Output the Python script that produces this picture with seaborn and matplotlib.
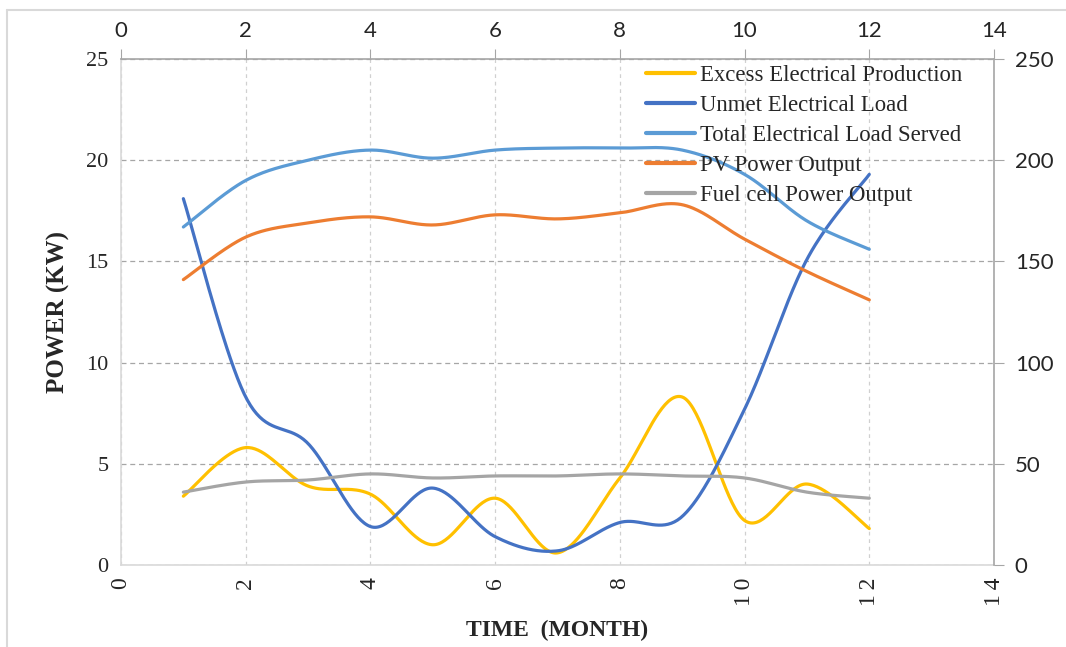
import numpy as np
import pandas as pd
import matplotlib
matplotlib.use("Agg")
import matplotlib.pyplot as plt
import seaborn as sns
from matplotlib.lines import Line2D

months = [1, 2, 3, 4, 5, 6, 7, 8, 9, 10, 11, 12]
excess = [3.4, 5.8, 3.9, 3.5, 1.0, 3.3, 0.6, 4.3, 8.3, 2.2, 4.0, 1.8]
unmet = [18.1, 8.3, 6.0, 1.9, 3.8, 1.4, 0.7, 2.1, 2.4, 7.7, 15.1, 19.3]
total_served = [16.7, 19.0, 20.0, 20.5, 20.1, 20.5, 20.6, 20.6, 20.5, 19.3, 17.0, 15.6]
pv_output = [14.1, 16.2, 16.9, 17.2, 16.8, 17.3, 17.1, 17.4, 17.8, 16.1, 14.5, 13.1]
fuel_cell = [3.6, 4.1, 4.2, 4.5, 4.3, 4.4, 4.4, 4.5, 4.4, 4.3, 3.6, 3.3]

series_names = ["Excess Electrical Production", "Unmet Electrical Load",
                "Total Electrical Load Served", "PV Power Output",
                "Fuel cell Power Output"]
series_values = [excess, unmet, total_served, pv_output, fuel_cell]
colors = ["#FFC000", "#4472C4", "#5B9BD5", "#ED7D31", "#A5A5A5"]

x_ticks = [0, 2, 4, 6, 8, 10, 12, 14]
left_ticks = [0, 5, 10, 15, 20, 25]
right_ticks = [0, 50, 100, 150, 200, 250]


def smooth(xs, ys, n=40):
    """Excel-style smoothed line: cubic Bezier segments with Catmull-Rom control points."""
    xs = np.asarray(xs, float)
    ys = np.asarray(ys, float)
    P = np.column_stack([xs, ys])
    out = []
    m = len(P)
    for i in range(m - 1):
        p0 = P[i - 1] if i > 0 else P[i]
        p1 = P[i]
        p2 = P[i + 1]
        p3 = P[i + 2] if i + 2 < m else P[i + 1]
        c1 = p1 + (p2 - p0) / 6.0
        c2 = p2 - (p3 - p1) / 6.0
        t = np.linspace(0, 1, n, endpoint=(i == m - 2))[:, None]
        b = ((1 - t) ** 3) * p1 + 3 * ((1 - t) ** 2) * t * c1 + 3 * (1 - t) * t ** 2 * c2 + t ** 3 * p2
        out.append(b)
    out = np.vstack(out)
    return out[:, 0], out[:, 1]


frames = []
for name, vals in zip(series_names, series_values):
    sx, sy = smooth(months, vals)
    frames.append(pd.DataFrame({"x": sx, "y": sy, "series": name}))
df = pd.concat(frames, ignore_index=True)

sns.set_style("white")
plt.rcParams["font.family"] = ["Liberation Serif", "DejaVu Serif"]

W, H = 1066, 647
fig = plt.figure(figsize=(W / 100, H / 100), dpi=100)
ax = fig.add_axes([121 / W, 1 - 565 / H, (994 - 121) / W, (565 - 59) / H])

# outer chart border (left and top visible)
fig.add_artist(plt.Line2D([7 / W, 7 / W], [0, 1 - 10 / H], transform=fig.transFigure, color="#D9D9D9", lw=1.5))
fig.add_artist(plt.Line2D([7 / W, 1], [1 - 10 / H, 1 - 10 / H], transform=fig.transFigure, color="#D9D9D9", lw=1.5))

sns.lineplot(data=df, x="x", y="y", hue="series", hue_order=series_names,
             palette=dict(zip(series_names, colors)), sort=False, estimator=None,
             units="series", linewidth=2.3, ax=ax, legend=False, zorder=3)

ax.set_xlim(0, 14)
ax.set_ylim(0, 25)
ax.set_xticks(x_ticks)
ax.set_yticks(left_ticks)
ax.set_xticklabels(["\u2009".join(str(v)) for v in x_ticks], rotation=90, fontsize=17,
                   family=["Liberation Serif", "DejaVu Serif"])
ax.set_yticklabels([str(v) for v in left_ticks], fontsize=16)
ax.tick_params(axis="both", length=0, pad=9)
ax.set_xlabel("TIME  (MONTH)", fontsize=17, fontweight="bold", labelpad=10)
ax.set_ylabel("POWER (KW)", fontsize=18, fontweight="bold", labelpad=12)

ax.grid(True, axis="y", linestyle=(0, (4, 3)), color="#A6A6A6", linewidth=0.9)
ax.grid(True, axis="x", linestyle=(0, (3, 3)), color="#D0D0D0", linewidth=0.9)
ax.set_axisbelow(True)
for side in ["left", "bottom"]:
    ax.spines[side].set_color("#D9D9D9")
    ax.spines[side].set_linewidth(1.2)
for side in ["top", "right"]:
    ax.spines[side].set_visible(False)

# secondary right axis
ax2 = ax.twinx()
ax2.set_ylim(0, 250)
ax2.set_yticks(right_ticks)
ax2.set_yticklabels([str(v) for v in right_ticks], fontsize=16, family="Lato")
ax2.tick_params(axis="y", length=7, color="#A6A6A6", pad=8)
for side in ["left", "bottom", "top"]:
    ax2.spines[side].set_visible(False)
ax2.spines["right"].set_color("#A6A6A6")
ax2.spines["right"].set_linewidth(1.2)
ax2.grid(False)

# secondary top axis
ax3 = ax.twiny()
ax3.set_xlim(0, 14)
ax3.set_xticks(x_ticks)
ax3.set_xticklabels([str(v) for v in x_ticks], fontsize=16, family="Lato")
ax3.tick_params(axis="x", length=7, color="#A6A6A6", pad=6)
for side in ["left", "bottom", "right"]:
    ax3.spines[side].set_visible(False)
ax3.spines["top"].set_color("#A6A6A6")
ax3.spines["top"].set_linewidth(1.2)
ax3.grid(False)

handles = [Line2D([0], [0], color=c, lw=3) for c in colors]
leg = fig.legend(handles, series_names, loc="upper left",
                 bbox_to_anchor=(646 / W, 1 - 65 / H), frameon=False,
                 fontsize=16.4, handlelength=2.15, handletextpad=0.2,
                 labelspacing=0.4, borderpad=0, borderaxespad=0)
leg.set_zorder(1)

fig.savefig("out.png", dpi=100)
